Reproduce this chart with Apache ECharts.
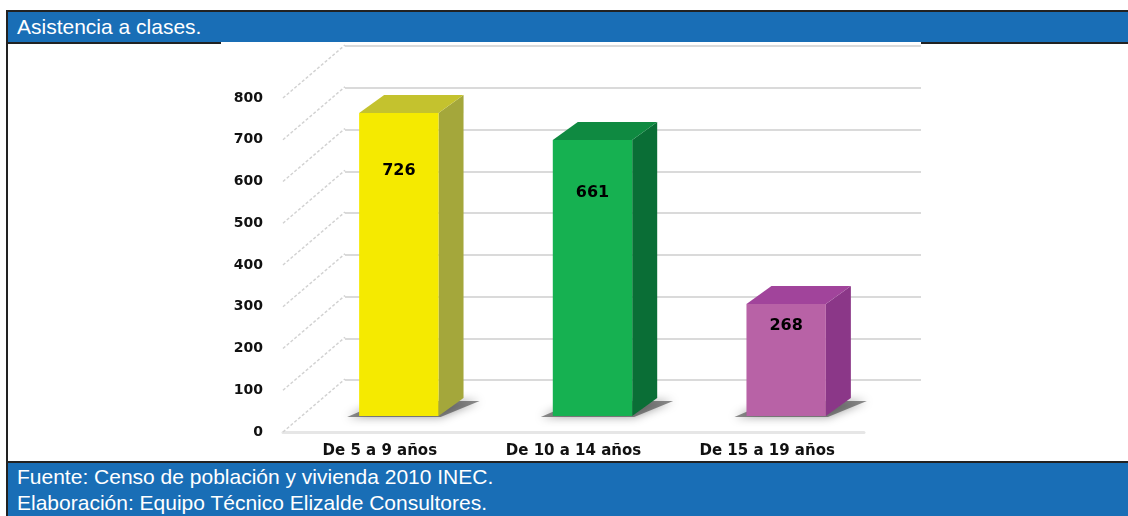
<!DOCTYPE html>
<html>
<head>
<meta charset="utf-8">
<title>Asistencia a clases</title>
<script src="https://cdn.jsdelivr.net/npm/echarts@6/dist/echarts.min.js"></script>
<style>
  html, body { margin: 0; padding: 0; background: #fff; }
  body { width: 1128px; height: 516px; position: relative; overflow: hidden;
         font-family: "Liberation Sans", Arial, sans-serif; }
  .frame-left { position: absolute; left: 6px; top: 10px; width: 2px; height: 506px; background: #222; }
  .band { position: absolute; left: 6px; width: 1122px; background: #196eb6; color: #fff;
          font-size: 21px; box-sizing: border-box; padding-left: 9px; border-left: 2px solid #222; }
  .header { top: 10px; height: 34px; line-height: 30px; border-top: 2px solid #222; border-bottom: 2px solid #222; }
  .header-gap { position: absolute; left: 221px; top: 42px; width: 700px; height: 3px; background: #fff; }
  .footer { top: 461px; height: 55px; border-top: 2px solid #222; line-height: 26px; padding-top: 1px; }
  #chart { position: absolute; left: 0; top: 0; width: 1128px; height: 516px; }
</style>
</head>
<body>
<div class="frame-left"></div>
<div class="band header">Asistencia a clases.</div>
<div class="header-gap"></div>
<div class="band footer">Fuente: Censo de población y vivienda 2010 INEC.<br>Elaboración: Equipo Técnico Elizalde Consultores.</div>
<div id="chart"></div>

<script>
// data
const categories = ["De 5 a 9 años", "De 10 a 14 años", "De 15 a 19 años"];
const values = [726, 661, 268];
const yTicks = [0, 100, 200, 300, 400, 500, 600, 700, 800];

// face colours per bar: front, top, side
const faceColors = [
  ["#f5ea00", "#c4c22e", "#a4a73b"],
  ["#16b151", "#0f8a41", "#0a6e36"],
  ["#b862a6", "#a1449b", "#8b3788"],
];

const depthX = 25;
const depthY = 18;
const yFont = { fontFamily: "DejaVu Sans", fontWeight: "bold", fontSize: 14, color: "#111" };
const xFont = { fontFamily: "DejaVu Sans", fontWeight: "bold", fontSize: 15, color: "#111" };

function renderBar(params, api) {
  const idx = api.value(0);
  const v = api.value(1);
  const base = api.coord([idx, 0]);
  const top = api.coord([idx, v]);
  const w = api.size([1, 0])[0] * 0.41;
  const x0 = base[0] - w / 2;
  const x1 = base[0] + w / 2;
  const by = base[1];
  const ty = top[1];
  const c = faceColors[idx];
  const lab = api.coord([idx, v * 0.81]);
  return {
    type: "group",
    children: [
      {
        type: "polygon",
        shape: { points: [[x0 - 12, by + 1], [x1 + 2, by + 1], [x1 + depthX + 16, by - depthY + 3], [x0 + depthX, by - depthY + 3]] },
        style: { fill: "rgba(50,50,50,0.55)", shadowBlur: 10, shadowColor: "rgba(0,0,0,0.7)" },
      },
      {
        type: "polygon",
        shape: { points: [[x1, ty], [x1 + depthX, ty - depthY], [x1 + depthX, by - depthY], [x1, by]] },
        style: { fill: c[2] },
      },
      {
        type: "polygon",
        shape: { points: [[x0, ty], [x0 + depthX, ty - depthY], [x1 + depthX, ty - depthY], [x1, ty]] },
        style: { fill: c[1] },
      },
      {
        type: "rect",
        shape: { x: x0, y: ty, width: w, height: by - ty },
        style: { fill: c[0] },
      },
      {
        type: "text",
        x: base[0],
        y: lab[1],
        style: {
          text: String(v),
          fill: "#000",
          font: "bold 16px 'DejaVu Sans'",
          align: "center",
          verticalAlign: "middle",
        },
      },
    ],
  };
}

function renderDiagonal(params, api) {
  const v = api.value(0);
  const p = api.coord([0, v]);
  const x = p[0] - api.size([1, 0])[0] / 2;
  return {
    type: "line",
    shape: { x1: x, y1: p[1], x2: x + 62, y2: p[1] - 53 },
    style: { stroke: "#d2d2d2", lineWidth: 1.5, lineDash: [3, 2] },
  };
}

const myChart = echarts.init(document.getElementById("chart"));
const option = {
  animation: false,
  grid: [
    // front plane: y labels, category labels, floor edge
    { left: 283, top: 98, width: 581, height: 334 },
    // back wall with gridlines
    { left: 345, top: 46, width: 576, height: 334 },
    // bars, half way in depth
    { left: 302, top: 82, width: 581, height: 334 },
  ],
  xAxis: [
    {
      gridIndex: 0,
      type: "category",
      data: categories,
      axisLine: { lineStyle: { color: "#e6e6e6", width: 3 } },
      axisTick: { show: false },
      axisLabel: Object.assign({ margin: 12 }, xFont),
    },
    { gridIndex: 1, type: "category", data: categories, show: false },
    { gridIndex: 2, type: "category", data: categories, show: false },
  ],
  yAxis: [
    {
      gridIndex: 0,
      type: "value",
      min: 0,
      max: 800,
      interval: 100,
      axisLine: { show: false },
      axisTick: { show: false },
      splitLine: { show: false },
      axisLabel: Object.assign({ margin: 20 }, yFont),
    },
    {
      gridIndex: 1,
      type: "value",
      min: 0,
      max: 800,
      interval: 100,
      axisLine: { show: false },
      axisTick: { show: false },
      axisLabel: { show: false },
      splitLine: { lineStyle: { color: "#dadada", width: 2 } },
    },
    { gridIndex: 2, type: "value", min: 0, max: 800, show: false },
  ],
  series: [
    {
      type: "custom",
      xAxisIndex: 0,
      yAxisIndex: 0,
      renderItem: renderDiagonal,
      data: yTicks.map((t) => [t]),
      encode: { y: 0 },
      silent: true,
      z: 1,
    },
    {
      type: "custom",
      xAxisIndex: 2,
      yAxisIndex: 2,
      renderItem: renderBar,
      data: values.map((v, i) => [i, v]),
      encode: { x: 0, y: 1 },
      z: 3,
    },
  ],
};
option && myChart.setOption(option);
</script>
</body>
</html>
